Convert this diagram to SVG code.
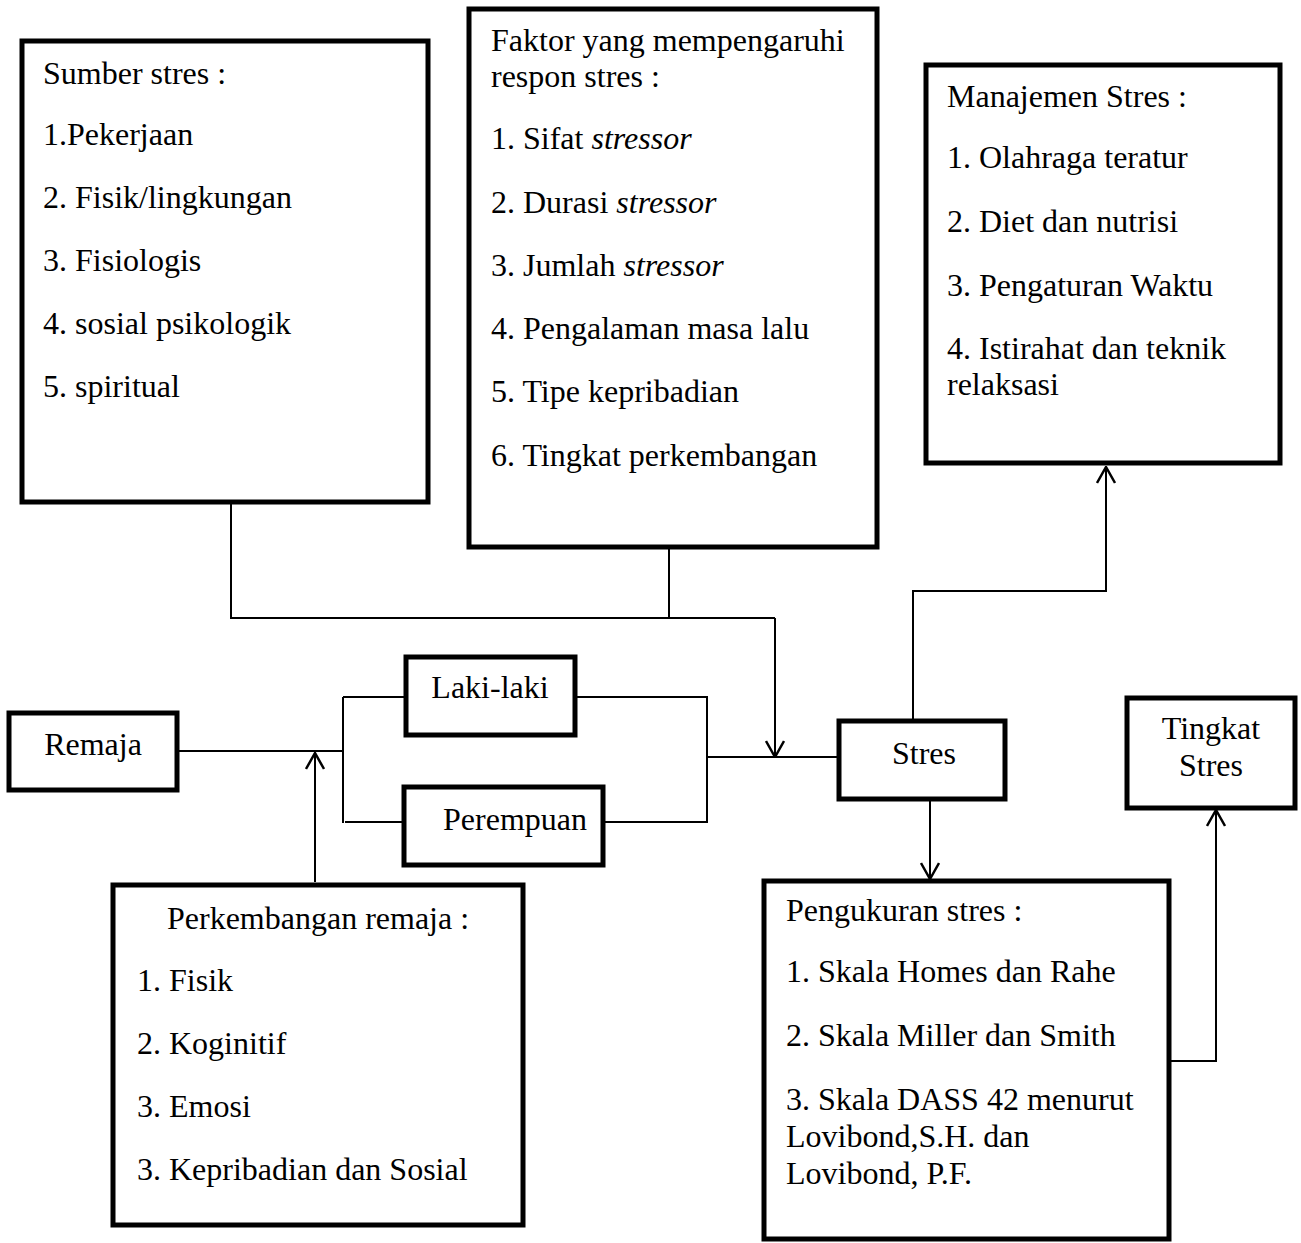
<svg xmlns="http://www.w3.org/2000/svg" width="1301" height="1243" viewBox="0 0 1301 1243">
<style>
.box{fill:#fff;stroke:#000;stroke-width:5}
.t{font-family:"Liberation Serif","Times New Roman",serif;font-size:32px;fill:#000}
.c{text-anchor:middle}
.conn{fill:none;stroke:#000;stroke-width:2}
</style>
<defs>
<marker id="arr" viewBox="0 0 18 20" refX="17" refY="10" markerWidth="18" markerHeight="20" markerUnits="userSpaceOnUse" orient="auto">
<path d="M1,1 L17,10 L1,19" fill="none" stroke="#000" stroke-width="2.5"/>
</marker>
</defs>
<rect width="1301" height="1243" fill="#fff"/>
<g id="connectors">
<path class="conn" d="M231,503 V618 H775"/>
<path class="conn" d="M669,548 V618"/>
<path class="conn" d="M775,618 V757" marker-end="url(#arr)"/>
<path class="conn" d="M178,751 H343"/>
<path class="conn" d="M343,697 V823"/>
<path class="conn" d="M343,697 H405"/>
<path class="conn" d="M345,822 H403"/>
<path class="conn" d="M576,697 H707 V822 H604"/>
<path class="conn" d="M707,757 H838"/>
<path class="conn" d="M315,882 V753" marker-end="url(#arr)"/>
<path class="conn" d="M913,720 V591 H1106 V467" marker-end="url(#arr)"/>
<path class="conn" d="M930,800 V879" marker-end="url(#arr)"/>
<path class="conn" d="M1170,1061 H1216 V810" marker-end="url(#arr)"/>
</g>
<g id="sumber">
<rect class="box" x="22" y="41" width="406" height="461"/>
<text class="t" x="43" y="84">Sumber stres :</text>
<text class="t" x="43" y="145">1.Pekerjaan</text>
<text class="t" x="43" y="208">2. Fisik/lingkungan</text>
<text class="t" x="43" y="271">3. Fisiologis</text>
<text class="t" x="43" y="334">4. sosial psikologik</text>
<text class="t" x="43" y="397">5. spiritual</text>
</g>
<g id="faktor">
<rect class="box" x="469" y="9" width="408" height="538"/>
<text class="t" x="491" y="51">Faktor yang mempengaruhi</text>
<text class="t" x="491" y="87">respon stres :</text>
<text class="t" x="491" y="149">1. Sifat <tspan font-style="italic">stressor</tspan></text>
<text class="t" x="491" y="213">2. Durasi <tspan font-style="italic">stressor</tspan></text>
<text class="t" x="491" y="276">3. Jumlah <tspan font-style="italic">stressor</tspan></text>
<text class="t" x="491" y="339">4. Pengalaman masa lalu</text>
<text class="t" x="491" y="402">5. Tipe kepribadian</text>
<text class="t" x="491" y="466">6. Tingkat perkembangan</text>
</g>
<g id="manajemen">
<rect class="box" x="926" y="65" width="354" height="398"/>
<text class="t" x="947" y="107">Manajemen Stres :</text>
<text class="t" x="947" y="168">1. Olahraga teratur</text>
<text class="t" x="947" y="232">2. Diet dan nutrisi</text>
<text class="t" x="947" y="296">3. Pengaturan Waktu</text>
<text class="t" x="947" y="359">4. Istirahat dan teknik</text>
<text class="t" x="947" y="395">relaksasi</text>
</g>
<g id="remaja">
<rect class="box" x="9" y="713" width="168" height="77"/>
<text class="t c" x="93" y="755">Remaja</text>
</g>
<g id="laki">
<rect class="box" x="406" y="657" width="169" height="78"/>
<text class="t c" x="490" y="698">Laki-laki</text>
</g>
<g id="perempuan">
<rect class="box" x="404" y="787" width="199" height="78"/>
<text class="t c" x="515" y="830">Perempuan</text>
</g>
<g id="stres">
<rect class="box" x="839" y="721" width="166" height="78"/>
<text class="t c" x="924" y="764">Stres</text>
</g>
<g id="tingkat">
<rect class="box" x="1127" y="698" width="168" height="110"/>
<text class="t c" x="1211" y="739">Tingkat</text>
<text class="t c" x="1211" y="776">Stres</text>
</g>
<g id="perkembangan">
<rect class="box" x="113" y="885" width="410" height="340"/>
<text class="t" x="167" y="929">Perkembangan remaja :</text>
<text class="t" x="137" y="991">1. Fisik</text>
<text class="t" x="137" y="1054">2. Koginitif</text>
<text class="t" x="137" y="1117">3. Emosi</text>
<text class="t" x="137" y="1180">3. Kepribadian dan Sosial</text>
</g>
<g id="pengukuran">
<rect class="box" x="764" y="881" width="405" height="358"/>
<text class="t" x="786" y="921">Pengukuran stres :</text>
<text class="t" x="786" y="982">1. Skala Homes dan Rahe</text>
<text class="t" x="786" y="1046">2. Skala Miller dan Smith</text>
<text class="t" x="786" y="1110">3. Skala DASS 42 menurut</text>
<text class="t" x="786" y="1147">Lovibond,S.H. dan</text>
<text class="t" x="786" y="1184">Lovibond, P.F.</text>
</g>
</svg>
